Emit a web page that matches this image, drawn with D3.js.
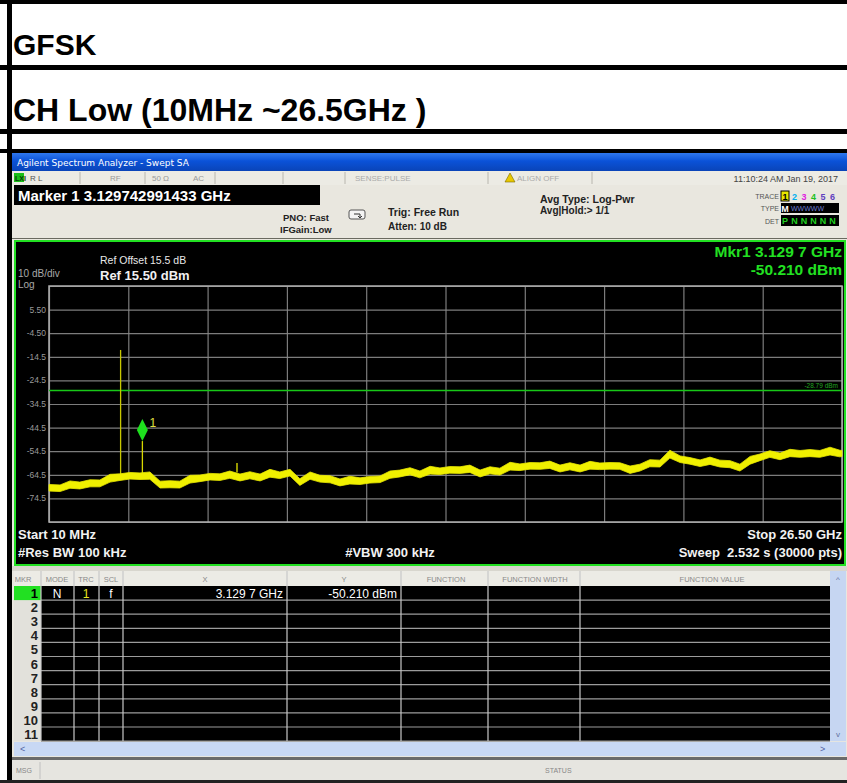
<!DOCTYPE html>
<html>
<head>
<meta charset="utf-8">
<script src="https://cdn.jsdelivr.net/npm/d3@7"></script>
<style>
  body { margin: 0; background: #fff; }
  svg { display: block; font-family: "Liberation Sans", Arial, sans-serif; }
</style>
</head>
<body>
<svg id="chart" width="847" height="783"></svg>
<script>
// ---- Report headings ----
const headingLines = ["GFSK", "CH Low (10MHz ~26.5GHz )"];

// ---- Analyzer settings ----
const startGHz = 0.01, stopGHz = 26.5;
const refLevel = 15.5, dbPerDiv = 10, divisions = 10;
const yTickLabels = ["5.50", "-4.50", "-14.5", "-24.5", "-34.5", "-44.5", "-54.5", "-64.5", "-74.5"];
const displayLineDbm = -28.79;

// ---- Trace (noise band: peak and trough of the sweep at each frequency) ----
const traceFreqGHz = [0.01, 0.38, 0.71, 1.04, 1.38, 1.71, 2.05, 2.38, 2.71, 3.05,
  3.38, 3.72, 4.05, 4.38, 4.72, 5.05, 5.39, 5.72, 6.05, 6.39,
  6.72, 7.06, 7.39, 7.72, 8.06, 8.39, 8.73, 9.06, 9.40, 9.73,
  10.06, 10.40, 10.73, 11.07, 11.40, 11.73, 12.07, 12.40, 12.74, 13.07,
  13.40, 13.74, 14.07, 14.41, 14.74, 15.07, 15.41, 15.74, 16.08, 16.41,
  16.74, 17.08, 17.41, 17.75, 18.08, 18.41, 18.75, 19.08, 19.42, 19.75,
  20.08, 20.42, 20.75, 21.09, 21.42, 21.76, 22.09, 22.42, 22.76, 23.09,
  23.43, 23.76, 24.09, 24.43, 24.76, 25.10, 25.43, 25.76, 26.10, 26.43, 26.50];
const traceMaxDbm = [-68.6, -68.8, -67.1, -67.6, -66.6, -66.7, -64.3, -64.1, -63.5, -63.7,
  -63.3, -67.2, -67.0, -67.2, -64.7, -64.6, -63.9, -64.1, -62.9, -64.2,
  -63.2, -64.2, -62.2, -63.3, -62.2, -66.2, -63.3, -64.7, -64.9, -66.3,
  -65.1, -65.8, -65.2, -65.0, -62.9, -62.5, -61.5, -62.9, -60.9, -61.6,
  -61.0, -61.1, -60.4, -62.5, -61.1, -61.7, -59.2, -59.9, -59.3, -59.4,
  -58.7, -60.4, -59.4, -60.4, -58.8, -59.5, -59.3, -59.4, -60.8, -60.0,
  -58.1, -58.3, -54.1, -56.5, -57.2, -58.2, -57.0, -58.3, -58.5, -60.0,
  -56.7, -55.7, -54.3, -55.3, -53.7, -54.2, -53.8, -54.2, -52.8, -54.1, -54.2];
const traceMinDbm = [-71.4, -71.6, -70.2, -70.5, -69.6, -69.6, -67.6, -66.9, -66.3, -66.5,
  -66.4, -70.1, -70.0, -70.1, -68.0, -67.4, -66.7, -66.9, -66.0, -67.1,
  -66.2, -67.1, -65.5, -66.1, -65.0, -69.0, -66.4, -67.6, -67.9, -69.2,
  -68.4, -68.6, -68.0, -67.8, -66.0, -65.4, -64.5, -65.8, -64.2, -64.4,
  -63.8, -63.9, -63.5, -65.4, -64.1, -64.6, -62.5, -62.7, -62.1, -62.2,
  -61.8, -63.3, -62.4, -63.3, -62.1, -62.3, -62.1, -62.2, -63.9, -62.9,
  -61.1, -61.2, -57.4, -59.3, -60.0, -61.0, -60.1, -61.2, -61.5, -62.9,
  -60.0, -58.5, -57.1, -58.1, -56.8, -57.1, -56.8, -57.1, -56.1, -56.9, -56.7];

// narrow spikes riding on the noise floor
const spikeFreqGHz = [2.402, 3.1297, 6.29];
const spikeBaseDbm = [-66.0, -64.5, -63.5];
const spikePeakDbm = [-11.6, -50.21, -59.5];
const spikeColors = ["#c8c800", "#d8d800", "#e8e800"];

// ---- Marker 1 ----
const markerFreqGHz = 3.1297, markerDbm = -50.21;

// ---- Marker table ----
const tableColumns = ["MKR", "MODE", "TRC", "SCL", "X", "Y", "FUNCTION", "FUNCTION WIDTH", "FUNCTION VALUE"];
const tableRowNumbers = [1, 2, 3, 4, 5, 6, 7, 8, 9, 10, 11];
const markerRow = { mode: "N", trc: "1", scl: "f", x: "3.129 7 GHz", y: "-50.210 dBm" };

// ---- Trace summary block ----
const traceNums = ["1", "2", "3", "4", "5", "6"];
const traceNumColors = ["#000", "#00b0f0", "#e020e0", "#20c020", "#6040c0", "#6040c0"];
const detLetters = ["P", "N", "N", "N", "N", "N"];

// ------------------------------------------------------------
const svg = d3.select("#chart");
const W = 847, H = 783;

svg.append("rect").attr("width", W).attr("height", H).attr("fill", "#fff");

// report table borders
const borders = svg.append("g").attr("fill", "#000");
borders.append("rect").attr("x", 0).attr("y", 0).attr("width", W).attr("height", 4);
borders.append("rect").attr("x", 0).attr("y", 65).attr("width", W).attr("height", 5);
borders.append("rect").attr("x", 0).attr("y", 129).attr("width", W).attr("height", 5);
borders.append("rect").attr("x", 0).attr("y", 149).attr("width", W).attr("height", 4);
borders.append("rect").attr("x", 7).attr("y", 0).attr("width", 5).attr("height", H);

svg.append("text").attr("x", 13).attr("y", 55).attr("font-size", 30).attr("font-weight", "bold")
  .attr("fill", "#000").text(headingLines[0]);
svg.append("text").attr("x", 13).attr("y", 121).attr("font-size", 32).attr("font-weight", "bold")
  .attr("fill", "#000").text(headingLines[1]);

// ---- analyzer window ----
const win = svg.append("g");
win.append("rect").attr("x", 12).attr("y", 153).attr("width", W - 12).attr("height", H - 153).attr("fill", "#e9e7df");

const defs = svg.append("defs");
const tg = defs.append("linearGradient").attr("id", "titleGrad").attr("x1", 0).attr("y1", 0).attr("x2", 0).attr("y2", 1);
tg.append("stop").attr("offset", "0%").attr("stop-color", "#2f78ee");
tg.append("stop").attr("offset", "45%").attr("stop-color", "#0b52d8");
tg.append("stop").attr("offset", "100%").attr("stop-color", "#0a44b8");
win.append("rect").attr("x", 12).attr("y", 153).attr("width", W - 12).attr("height", 18).attr("fill", "url(#titleGrad)");
win.append("text").attr("x", 17).attr("y", 166).attr("fill", "#fff")
  .attr("font-family", "DejaVu Sans, sans-serif").attr("font-size", 9)
  .text("Agilent Spectrum Analyzer - Swept SA");

// status row
win.append("rect").attr("x", 12).attr("y", 171).attr("width", W - 12).attr("height", 14).attr("fill", "#ecebe4");
const statusSeps = [80, 145, 215, 283, 345, 488, 592];
win.selectAll(".ssep").data(statusSeps).join("line")
  .attr("x1", d => d).attr("x2", d => d).attr("y1", 172).attr("y2", 184)
  .attr("stroke", "#b8b6ae");
win.append("rect").attr("x", 14).attr("y", 173).attr("width", 10).attr("height", 9).attr("fill", "#19c019");
win.append("text").attr("x", 15).attr("y", 181).attr("font-size", 7).attr("font-weight", "bold").attr("fill", "#0a3a0a").text("LXI");
const statusTexts = [
  { x: 30, t: "R L", c: "#555" }, { x: 110, t: "RF", c: "#999" }, { x: 152, t: "50 Ω", c: "#999" },
  { x: 193, t: "AC", c: "#999" }, { x: 355, t: "SENSE:PULSE", c: "#aaa" }, { x: 517, t: "ALIGN OFF", c: "#aaa" }
];
win.selectAll(".stxt").data(statusTexts).join("text")
  .attr("x", d => d.x).attr("y", 181).attr("font-size", 8).attr("fill", d => d.c).text(d => d.t);
win.append("path").attr("d", "M505,182 L510,173 L515,182 Z").attr("fill", "#e8c800").attr("stroke", "#7a6a00").attr("stroke-width", 0.6);
win.append("text").attr("x", 838).attr("y", 182).attr("text-anchor", "end").attr("font-size", 9).attr("fill", "#444")
  .text("11:10:24 AM Jan 19, 2017");

// marker frequency box
win.append("rect").attr("x", 14).attr("y", 185).attr("width", 306).attr("height", 20).attr("fill", "#000");
win.append("text").attr("x", 18).attr("y", 201).attr("font-size", 15).attr("font-weight", "bold").attr("fill", "#fff")
  .text("Marker 1 3.129742991433 GHz");

// settings
const settingTexts = [
  { x: 283, y: 221, t: "PNO: Fast", s: 9.5 }, { x: 280, y: 233, t: "IFGain:Low", s: 9.5 },
  { x: 388, y: 216, t: "Trig: Free Run", s: 10.5 }, { x: 388, y: 230, t: "Atten: 10 dB", s: 10 },
  { x: 540, y: 203, t: "Avg Type: Log-Pwr", s: 10.5 }, { x: 540, y: 214, t: "Avg|Hold:> 1/1", s: 10 }
];
win.selectAll(".set").data(settingTexts).join("text")
  .attr("x", d => d.x).attr("y", d => d.y).attr("font-size", d => d.s).attr("font-weight", "bold")
  .attr("fill", "#222").text(d => d.t);
win.append("rect").attr("x", 349).attr("y", 210).attr("width", 16).attr("height", 9).attr("rx", 2)
  .attr("fill", "#f4f4f4").attr("stroke", "#555");
win.append("path").attr("d", "M354,214 L360,214 L360,218 M358,216 L360,218 L362,216").attr("fill", "none").attr("stroke", "#333");

// trace / type / detector summary
const sumLabels = [{ y: 199, t: "TRACE" }, { y: 211, t: "TYPE" }, { y: 224, t: "DET" }];
win.selectAll(".sum").data(sumLabels).join("text")
  .attr("x", 779).attr("y", d => d.y).attr("text-anchor", "end").attr("font-size", 7).attr("fill", "#555").text(d => d.t);
win.append("rect").attr("x", 781).attr("y", 191).attr("width", 8).attr("height", 10).attr("fill", "#e8e800").attr("stroke", "#000");
win.selectAll(".tn").data(traceNums).join("text")
  .attr("x", (d, i) => 785 + i * 9.5).attr("y", 200).attr("text-anchor", "middle").attr("font-size", 9).attr("font-weight", "bold")
  .attr("fill", (d, i) => traceNumColors[i]).text(d => d);
win.append("rect").attr("x", 781).attr("y", 203).attr("width", 58).attr("height", 10).attr("fill", "#000");
win.append("text").attr("x", 785).attr("y", 212).attr("text-anchor", "middle").attr("font-size", 9).attr("font-weight", "bold").attr("fill", "#fff").text("M");
win.append("text").attr("x", 791).attr("y", 211).attr("font-size", 7).attr("fill", "#6b7bd0").text("WWWWW");
win.append("rect").attr("x", 781).attr("y", 215).attr("width", 58).attr("height", 11).attr("fill", "#000");
win.selectAll(".det").data(detLetters).join("text")
  .attr("x", (d, i) => 785 + i * 9.5).attr("y", 224).attr("text-anchor", "middle").attr("font-size", 9).attr("font-weight", "bold")
  .attr("fill", "#20d020").text(d => d);
win.append("line").attr("x1", 12).attr("x2", W).attr("y1", 238.5).attr("y2", 238.5).attr("stroke", "#6a6a60");

// ---- spectrum panel ----
const panel = svg.append("g");
panel.append("rect").attr("x", 15).attr("y", 241).attr("width", 830).attr("height", 324)
  .attr("fill", "#000").attr("stroke", "#22e022").attr("stroke-width", 2);

const x = d3.scaleLinear().domain([startGHz, stopGHz]).range([49, 842]);
const y = d3.scaleLinear().domain([refLevel - dbPerDiv * divisions, refLevel]).range([522, 286]);

const xTicks = d3.range(divisions + 1).map(i => startGHz + i * (stopGHz - startGHz) / divisions);
const yTicks = d3.range(divisions + 1).map(i => refLevel - i * dbPerDiv);

// graticule via axes
const gx = panel.append("g").attr("transform", "translate(0,522)")
  .call(d3.axisBottom(x).tickValues(xTicks).tickSize(-236).tickFormat(""));
const gy = panel.append("g").attr("transform", "translate(49,0)")
  .call(d3.axisLeft(y).tickValues(yTicks).tickSize(-793).tickFormat(""));
[gx, gy].forEach(g => {
  g.select(".domain").remove();
  g.selectAll(".tick line").attr("stroke", "#8a8a8a").attr("stroke-width", 1.2).attr("opacity", 0.9);
});
panel.append("rect").attr("x", x(startGHz)).attr("y", y(refLevel)).attr("width", x(stopGHz) - x(startGHz))
  .attr("height", y(refLevel - 100) - y(refLevel)).attr("fill", "none").attr("stroke", "#b0b0b0").attr("stroke-width", 1.5);

// y labels
panel.selectAll(".ylab").data(yTickLabels).join("text")
  .attr("x", 46).attr("y", (d, i) => y(yTicks[i + 1]) + 3).attr("text-anchor", "end")
  .attr("font-size", 8.5).attr("fill", "#9a9a9a").text(d => d);

// panel annotations
panel.append("text").attr("x", 18).attr("y", 277).attr("font-size", 10).attr("fill", "#a8a8a8").text("10 dB/div");
panel.append("text").attr("x", 18).attr("y", 288).attr("font-size", 10).attr("fill", "#a8a8a8").text("Log");
panel.append("text").attr("x", 100).attr("y", 264).attr("font-size", 10.5).attr("fill", "#e8e8e8").text("Ref Offset 15.5 dB");
panel.append("text").attr("x", 100).attr("y", 280).attr("font-size", 13).attr("font-weight", "bold").attr("fill", "#f0f0f0")
  .text("Ref " + refLevel.toFixed(2) + " dBm");
panel.append("text").attr("x", 842).attr("y", 257).attr("text-anchor", "end").attr("font-size", 15.5).attr("font-weight", "bold")
  .attr("fill", "#22e022").text("Mkr1 3.129 7 GHz");
panel.append("text").attr("x", 842).attr("y", 275).attr("text-anchor", "end").attr("font-size", 15.5).attr("font-weight", "bold")
  .attr("fill", "#22e022").text(markerDbm.toFixed(3) + " dBm");

const bottomTexts = [
  { x: 18, y: 539, a: "start", t: "Start 10 MHz" },
  { x: 18, y: 557, a: "start", t: "#Res BW 100 kHz" },
  { x: 390, y: 557, a: "middle", t: "#VBW 300 kHz" },
  { x: 842, y: 539, a: "end", t: "Stop 26.50 GHz" },
  { x: 842, y: 557, a: "end", t: "Sweep  2.532 s (30000 pts)" }
];
panel.selectAll(".bt").data(bottomTexts).join("text")
  .attr("x", d => d.x).attr("y", d => d.y).attr("text-anchor", d => d.a)
  .attr("font-size", 13).attr("font-weight", "bold").attr("fill", "#f2f2f2")
  .style("white-space", "pre").text(d => d.t);

// display line
panel.append("line").attr("x1", x(startGHz)).attr("x2", x(stopGHz)).attr("y1", y(displayLineDbm)).attr("y2", y(displayLineDbm))
  .attr("stroke", "#18c818").attr("stroke-width", 1.3);
panel.append("text").attr("x", 838).attr("y", y(displayLineDbm) - 3).attr("text-anchor", "end")
  .attr("font-size", 6.5).attr("fill", "#20a820").text(displayLineDbm.toFixed(2) + " dBm");

// spikes
panel.selectAll(".spike").data(spikeFreqGHz).join("line")
  .attr("x1", d => x(d)).attr("x2", d => x(d))
  .attr("y1", (d, i) => y(spikeBaseDbm[i])).attr("y2", (d, i) => y(spikePeakDbm[i]))
  .attr("stroke", (d, i) => spikeColors[i]).attr("stroke-width", 1.3);

// noise band
const band = traceFreqGHz.map((f, i) => ({ f, hi: traceMaxDbm[i], lo: traceMinDbm[i] }));
panel.append("path").datum(band)
  .attr("d", d3.area().x(d => x(d.f)).y0(d => y(d.lo)).y1(d => y(d.hi)))
  .attr("fill", "#f0f000").attr("stroke", "#e8e800").attr("stroke-width", 0.8).attr("stroke-linejoin", "miter");

// marker diamond
const mx = x(markerFreqGHz), my = y(markerDbm);
panel.append("path").attr("d", `M${mx},${my} L${mx - 5.5},${my - 11} L${mx},${my - 22} L${mx + 5.5},${my - 11} Z`)
  .attr("fill", "#1ee01e");
panel.append("text").attr("x", mx + 7).attr("y", my - 14).attr("font-size", 12).attr("fill", "#e0e040").text("1");

// ---- marker table ----
const tbl = svg.append("g");
const colEdges = [14, 41, 74, 99, 123, 287, 401, 488, 580, 830];
tbl.append("rect").attr("x", 12).attr("y", 566).attr("width", W - 12).attr("height", 5).attr("fill", "#d8d6ce");
tbl.append("rect").attr("x", 14).attr("y", 571).attr("width", 816).attr("height", 15).attr("fill", "#ecebe5");
const headerX = [23, 57, 86, 111, 205, 344, 446, 535, 712];
tbl.selectAll(".th").data(tableColumns).join("text")
  .attr("x", (d, i) => headerX[i]).attr("y", 582).attr("text-anchor", "middle")
  .attr("font-size", 7.5).attr("fill", "#8a8a8a").text(d => d);

const rowTop = 586, rowH = 14.1;
tbl.append("rect").attr("x", 41).attr("y", rowTop).attr("width", 789).attr("height", rowH * 11).attr("fill", "#000");
tbl.append("rect").attr("x", 14).attr("y", rowTop).attr("width", 27).attr("height", rowH * 11).attr("fill", "#e2e1db");
tbl.append("rect").attr("x", 14).attr("y", rowTop).attr("width", 27).attr("height", rowH).attr("fill", "#22e022");

tbl.selectAll(".rl").data(tableRowNumbers).join("line")
  .attr("x1", 41).attr("x2", 830).attr("y1", (d, i) => rowTop + (i + 1) * rowH).attr("y2", (d, i) => rowTop + (i + 1) * rowH)
  .attr("stroke", "#9c9c9c").attr("stroke-width", 1.2);
tbl.selectAll(".cl").data(colEdges.slice(1, -1)).join("line")
  .attr("x1", d => d).attr("x2", d => d).attr("y1", 571).attr("y2", rowTop + rowH * 11)
  .attr("stroke", "#c8c8c8").attr("stroke-width", 1.2);

tbl.selectAll(".rn").data(tableRowNumbers).join("text")
  .attr("x", 38).attr("y", (d, i) => rowTop + i * rowH + 12).attr("text-anchor", "end")
  .attr("font-size", 13).attr("font-weight", "bold").attr("fill", (d, i) => i === 0 ? "#000" : "#222").text(d => d);

const r1 = rowTop + 12;
tbl.append("text").attr("x", 57).attr("y", r1).attr("text-anchor", "middle").attr("font-size", 12).attr("fill", "#fff").text(markerRow.mode);
tbl.append("text").attr("x", 86).attr("y", r1).attr("text-anchor", "middle").attr("font-size", 12).attr("fill", "#e8e820").text(markerRow.trc);
tbl.append("text").attr("x", 111).attr("y", r1).attr("text-anchor", "middle").attr("font-size", 12).attr("fill", "#fff").text(markerRow.scl);
tbl.append("text").attr("x", 283).attr("y", r1).attr("text-anchor", "end").attr("font-size", 12).attr("fill", "#fff").text(markerRow.x);
tbl.append("text").attr("x", 397).attr("y", r1).attr("text-anchor", "end").attr("font-size", 12).attr("fill", "#fff").text(markerRow.y);

// scrollbars
tbl.append("rect").attr("x", 830).attr("y", 571).attr("width", 16).attr("height", rowH * 11 + 15).attr("fill", "#c6d6f2");
tbl.append("text").attr("x", 838).attr("y", 582).attr("text-anchor", "middle").attr("font-size", 8).attr("fill", "#6070a0").text("^");
tbl.append("text").attr("x", 838).attr("y", 737).attr("text-anchor", "middle").attr("font-size", 8).attr("fill", "#6070a0").text("v");
tbl.append("rect").attr("x", 14).attr("y", 742).attr("width", 832).attr("height", 14).attr("fill", "#c8d8f4");
tbl.append("text").attr("x", 20).attr("y", 752).attr("font-size", 9).attr("fill", "#5060a0").text("<");
tbl.append("text").attr("x", 820).attr("y", 752).attr("font-size", 9).attr("fill", "#5060a0").text(">");

// message bar
tbl.append("rect").attr("x", 12).attr("y", 757).attr("width", W - 12).attr("height", 3).attr("fill", "#6a6a6a");
tbl.append("rect").attr("x", 12).attr("y", 760).attr("width", W - 12).attr("height", 20).attr("fill", "#e6e5e0");
tbl.append("line").attr("x1", 40).attr("x2", 40).attr("y1", 762).attr("y2", 779).attr("stroke", "#c0c0c0");
tbl.append("text").attr("x", 16).attr("y", 773).attr("font-size", 7).attr("fill", "#888").text("MSG");
tbl.append("text").attr("x", 545).attr("y", 773).attr("font-size", 7).attr("fill", "#888").text("STATUS");
tbl.append("rect").attr("x", 0).attr("y", 780).attr("width", W).attr("height", 3).attr("fill", "#222");
</script>
</body>
</html>
